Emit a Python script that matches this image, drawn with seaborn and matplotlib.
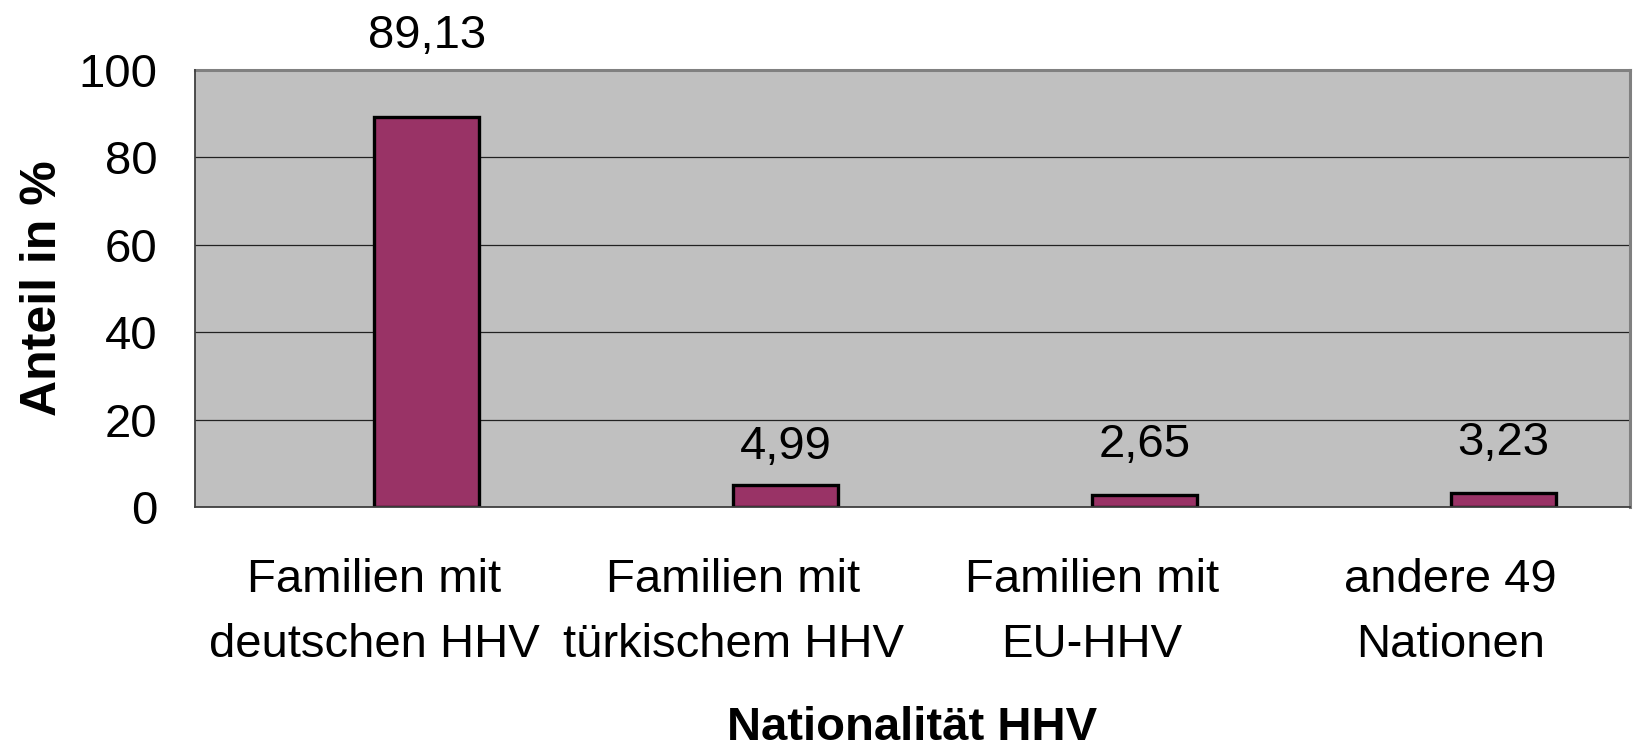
import matplotlib
matplotlib.use("Agg")
import matplotlib.pyplot as plt
import seaborn as sns
import pandas as pd

# --- DATA ---
categories = ["Familien mit\ndeutschen HHV", "Familien mit\ntürkischem HHV",
              "Familien mit\nEU-HHV", "andere 49\nNationen"]
shares = [89.13, 4.99, 2.65, 3.23]
value_labels = ["89,13", "4,99", "2,65", "3,23"]

df = pd.DataFrame({"gruppe": categories, "anteil": shares})

# --- STYLE ---
sns.set_style("white")
plt.rcParams["font.family"] = ["Liberation Sans", "DejaVu Sans"]
plt.rcParams["text.color"] = "black"
plt.rcParams["axes.labelcolor"] = "black"
plt.rcParams["xtick.color"] = "black"
plt.rcParams["ytick.color"] = "black"

BAR_COLOR = "#993366"
BG_COLOR = "#C0C0C0"
label_pad_pt = [50, 19, 28, 27]   # offset of the value labels above the bars

fig = plt.figure(figsize=(16.36, 7.5), dpi=100)
ax = fig.add_axes([0.1192, 0.324, 0.99633 - 0.1192, 0.9067 - 0.324])
ax.set_facecolor(BG_COLOR)

sns.barplot(data=df, x="gruppe", y="anteil", color=BAR_COLOR, width=0.293,
            edgecolor="black", linewidth=2.4, saturation=1, ax=ax, zorder=3)

# Excel-like placement: bars start at the category centre
for p in ax.patches:
    p.set_x(p.get_x() + p.get_width() / 2)

for p, txt, pad in zip(ax.patches, value_labels, label_pad_pt):
    ax.annotate(txt, (p.get_x() + p.get_width() / 2, p.get_height()),
                xytext=(0, pad), textcoords="offset points",
                ha="center", va="baseline", fontsize=34, annotation_clip=False)

ax.set_xlim(-0.5, len(categories) - 0.5)
ax.set_ylim(0, 100)
ax.set_yticks([0, 20, 40, 60, 80, 100])
ax.yaxis.grid(True, color="#222222", linewidth=0.9, zorder=0)
ax.set_axisbelow(True)

# category boundaries as tick marks, labels in the middle
ax.set_xticks([i - 0.5 for i in range(len(categories) + 1)], minor=True)
ax.tick_params(axis="x", which="minor", length=11, width=1.2, color="#333333")
ax.tick_params(axis="x", which="major", length=0, pad=37, labelsize=34)
ax.tick_params(axis="y", length=11, width=1.2, color="#333333", pad=16, labelsize=34)
for lab in ax.get_xticklabels():
    lab.set_linespacing(1.6)

for side in ["top", "right"]:
    ax.spines[side].set_color("#808080")
    ax.spines[side].set_linewidth(2.2)
for side in ["left", "bottom"]:
    ax.spines[side].set_color("#404040")
    ax.spines[side].set_linewidth(1.3)
    ax.spines[side].set_zorder(4)

ax.set_xlabel("Nationalität HHV", fontsize=34, fontweight="bold")
ax.set_ylabel("Anteil in %", fontsize=36, fontweight="bold")
ax.xaxis.set_label_coords(0.5, -0.455)
ax.yaxis.set_label_coords(-0.09, 0.5)

fig.savefig("out.png", dpi=100)
